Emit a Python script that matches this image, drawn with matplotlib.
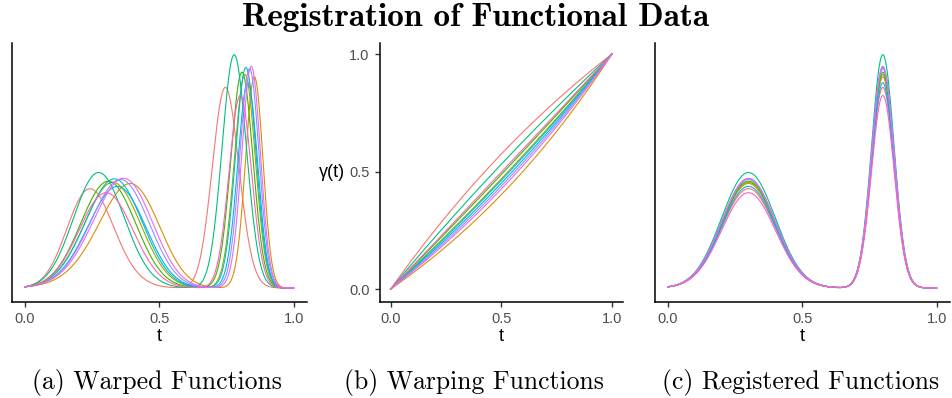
import numpy as np
from matplotlib import pyplot as plt

# ten curves, ggplot hue order
colors = ['#F8766D', '#D89000', '#A3A500', '#39B600', '#00BF7D',
          '#00BFC4', '#00B0F6', '#9590FF', '#E76BF3', '#FF62BC']
# warping slope parameter of each curve, gamma(t) = (e^{a t} - 1) / (e^a - 1)
warp_a = [-0.6, 0.8, 0.25, 0.1, -0.25, 0.3, 0.4, 0.5, 0.6, 0.02]
# height of the tall (second) peak of each curve
amp = [0.86, 0.905, 0.915, 0.925, 1.0, 0.945, 0.88, 0.94, 0.95, 0.825]

# two bumps shared by all registered functions
centers = [0.3, 0.8]
widths = [0.1, 0.042]
ratio = [0.495, 1.0]

xticks = [0.0, 0.5, 1.0]
xtick_labels = ['0.0', '0.5', '1.0']
captions = ['(a) Warped Functions', '(b) Warping Functions', '(c) Registered Functions']

t = np.linspace(0, 1, 801)


def gamma(t, a):
    return (np.exp(a * t) - 1) / (np.exp(a) - 1)


def registered(t, z):
    out = np.zeros_like(t)
    for c, s, r in zip(centers, widths, ratio):
        out += z * r * np.exp(-(t - c) ** 2 / (2 * s ** 2))
    return out


W, H = 952, 398
fig = plt.figure(figsize=(W / 100, H / 100), dpi=100)

boxes = [(12, 307), (380, 623), (655, 950)]
top, bottom = 43, 302
axes = []
for l, r in boxes:
    ax = fig.add_axes([l / W, (H - bottom) / H, (r - l) / W, (bottom - top) / H])
    axes.append(ax)

ax_a, ax_b, ax_c = axes
for i in range(len(colors)):
    g = gamma(t, warp_a[i])
    ax_a.plot(t, registered(g, amp[i]), color=colors[i], lw=0.8)
    ax_b.plot(t, g, color=colors[i], lw=0.8)
    ax_c.plot(t, registered(t, amp[i]), color=colors[i], lw=0.8)

for ax in axes:
    ax.set_xlim(-0.048, 1.05)
    for side in ['top', 'right']:
        ax.spines[side].set_visible(False)
    for side in ['left', 'bottom']:
        ax.spines[side].set_linewidth(1.1)
        ax.spines[side].set_color('black')
    ax.set_xticks(xticks)
    ax.set_xticklabels(xtick_labels, fontfamily='Liberation Sans', fontsize=10.5, color='#4D4D4D')
    ax.tick_params(axis='both', length=3.5, width=1.0, color='#333333', pad=4)
    ax.set_xlabel('t', fontfamily='Liberation Sans', fontsize=13, labelpad=1)

for ax in (ax_a, ax_c):
    ax.set_ylim(-0.06, 1.05)
    ax.set_yticks([])

ax_b.set_ylim(-0.055, 1.047)
ax_b.set_yticks(xticks)
ax_b.set_yticklabels(xtick_labels, fontfamily='Liberation Sans', fontsize=10.5, color='#4D4D4D')
ax_b.set_ylabel('γ(t)', fontfamily='Liberation Sans', fontsize=13, rotation=0,
                va='center', ha='right', labelpad=3)

fig.text(0.5, 1 - 17 / H, 'Registration of Functional Data', fontfamily='cmb10',
         fontsize=24, ha='center', va='center')
for (l, r), cap, cx in zip(boxes, captions, [157, 474, 801]):
    fig.text(cx / W, 1 - 382 / H, cap, fontfamily='cmr10', fontsize=18.5,
             ha='center', va='center')

fig.savefig('out.png', dpi=100)
